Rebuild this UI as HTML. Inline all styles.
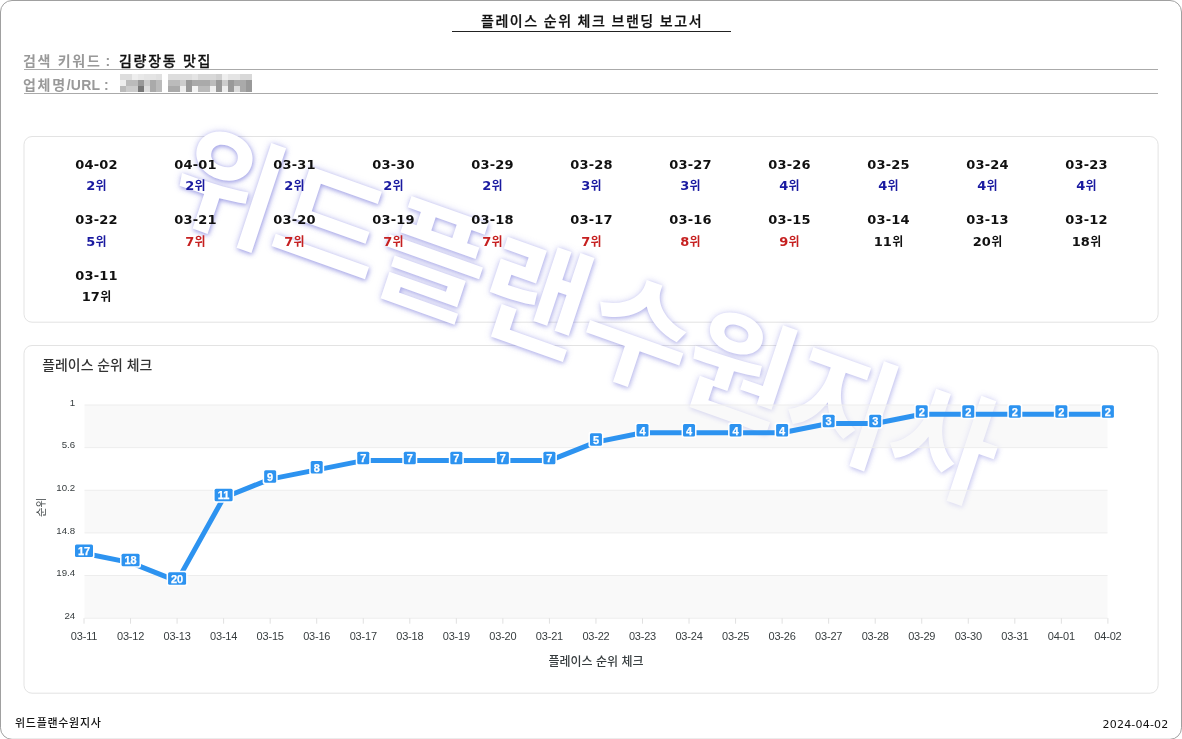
<!DOCTYPE html>
<html lang="ko">
<head>
<meta charset="utf-8">
<title>플레이스 순위 체크 브랜딩 보고서</title>
<style>
html,body{margin:0;padding:0;background:#fff;}
body{width:1182px;height:739px;overflow:hidden;position:relative;font-family:"Liberation Sans", "Noto Sans CJK KR", sans-serif;color:#111;}
.page{position:absolute;left:0;top:0;width:1182px;height:739px;overflow:hidden;}
.frame{position:absolute;left:0;top:0;}
.inner{position:absolute;left:0;top:0;width:1182px;height:739px;}
.wm{position:absolute;left:586.3px;top:316.5px;width:0;height:0;z-index:0;}
.wm span{position:absolute;left:-500px;top:-80px;width:1000px;height:160px;line-height:160px;text-align:center;
  font-family:"Liberation Sans", "Noto Sans CJK KR", sans-serif;font-size:118px;font-weight:700;color:#fff;white-space:nowrap;
  transform:rotate(19.6deg) skewX(1.3deg) scale(1,1.01);transform-origin:50% 50%;}
.wm i{font-style:normal;}
.title{position:absolute;left:452px;top:8px;width:279px;height:23px;border-bottom:1px solid #222;text-align:center;
  font-size:14px;line-height:27px;font-weight:500;letter-spacing:1.6px;text-indent:1.1px;word-spacing:-0.6px;color:#111;white-space:nowrap;-webkit-text-stroke:0.25px #111;}
.row{position:absolute;left:24px;width:1134px;height:23px;border-bottom:1px solid #aaa;font-size:14px;line-height:22px;white-space:nowrap;}
.row .lb{position:absolute;left:-1px;top:4px;color:#999;letter-spacing:1.7px;font-weight:700;}
.row .co{letter-spacing:0.2px;}
.row .vl{position:absolute;left:95px;top:4px;color:#111;font-weight:500;letter-spacing:1.7px;-webkit-text-stroke:0.3px #111;}
.row .mos{position:absolute;left:95px;top:4px;}
.grid{position:absolute;left:47px;top:151px;width:1090px;}
.cell{float:left;width:99px;height:55.5px;text-align:center;font-family:"DejaVu Sans", "Liberation Sans", "Noto Sans CJK KR", sans-serif;font-weight:bold;font-size:13px;letter-spacing:0.2px;}
.cell:nth-child(-n+11){height:55px;}
.cell:nth-child(n+12){height:56px;}
.cell .w{font-weight:700;font-size:12px;}
.cell:nth-child(n+12):nth-child(-n+22) .rk{position:relative;top:1px;}
.cell .d{height:21px;line-height:28px;color:#111;}
.cell .rk{height:21px;line-height:28px;}
.b{color:#1a1aa0;}
.r{color:#c62020;}
.k{color:#111;}
.chart{position:absolute;left:0;top:0;}
.chart text{font-family:"Liberation Sans","Noto Sans CJK KR",sans-serif;}
.ax{font-size:11px;fill:#373d3f;letter-spacing:-0.2px;}
.ay{font-size:9.7px;fill:#373d3f;}
.axt{font-size:12px;fill:#373d3f;font-weight:500;}
.axt2{font-size:10.5px;fill:#373d3f;}
.ct{font-size:13.9px;fill:#333;font-weight:500;}
.dl{font-size:11px;font-weight:bold;fill:#fff;stroke:#fff;stroke-width:0.25px;}
.ft{position:absolute;top:715px;font-size:11px;line-height:16px;color:#111;white-space:nowrap;}
.ftl{left:15px;letter-spacing:0.7px;font-weight:500;}
.ftr{right:13.5px;top:717px;font-family:"DejaVu Sans", "Liberation Sans", "Noto Sans CJK KR", sans-serif;letter-spacing:0.2px;}
</style>
</head>
<body>
<div class="page"><svg class="frame" width="1182" height="739" viewBox="0 0 1182 739"><rect x="0.5" y="0.5" width="1181" height="738.8" rx="11.5" ry="11.5" fill="none" stroke="#a0a0a0" stroke-width="1"/><rect x="24" y="136.5" width="1134.1" height="185.7" rx="8" ry="8" fill="none" stroke="#e3e3e3" stroke-width="1"/><rect x="24" y="345.5" width="1134.1" height="347.7" rx="8" ry="8" fill="none" stroke="#e3e3e3" stroke-width="1"/></svg><div class="inner">
<div class="wm"><span><i style="text-shadow:1.4px 1.4px 4.5px rgba(105,105,212,0.52),0 0 7px rgba(118,118,225,0.38)">위</i><i style="text-shadow:1.4px 1.4px 4.5px rgba(105,105,212,0.48),0 0 7px rgba(118,118,225,0.37)">드</i><i style="text-shadow:1.4px 1.4px 4.5px rgba(105,105,212,0.44),0 0 7px rgba(118,118,225,0.36)">플</i><i style="text-shadow:1.4px 1.4px 4.5px rgba(105,105,212,0.40),0 0 7px rgba(118,118,225,0.35)">랜</i><i style="text-shadow:1.4px 1.4px 4.5px rgba(105,105,212,0.36),0 0 7px rgba(118,118,225,0.33)">수</i><i style="text-shadow:1.4px 1.4px 4.5px rgba(105,105,212,0.32),0 0 7px rgba(118,118,225,0.32)">원</i><i style="text-shadow:1.4px 1.4px 4.5px rgba(105,105,212,0.28),0 0 7px rgba(118,118,225,0.31)">지</i><i style="text-shadow:1.4px 1.4px 4.5px rgba(105,105,212,0.24),0 0 7px rgba(118,118,225,0.30)">사</i></span></div>
<div class="title">플레이스 순위 체크 브랜딩 보고서</div>
<div class="row" style="top:46px"><span class="lb">검색 키워드<span class="co"> :</span></span><span class="vl">김량장동 맛집</span></div>
<div class="row" style="top:70px"><span class="lb">업체명<span class="co">/URL :</span></span><svg class="mos" width="140" height="20" viewBox="0 0 140 20"><rect x="1" y="0" width="6" height="6" fill="#ddd"/><rect x="7" y="0" width="6" height="6" fill="#ddd"/><rect x="13" y="0" width="6" height="6" fill="#eee"/><rect x="19" y="0" width="6" height="6" fill="#e8e8e8"/><rect x="25" y="0" width="6" height="6" fill="#e4e4e4"/><rect x="31" y="0" width="6" height="6" fill="#e4e4e4"/><rect x="37" y="0" width="6" height="6" fill="#e0e0e0"/><rect x="1" y="6" width="6" height="6" fill="#eee"/><rect x="7" y="6" width="6" height="6" fill="#bbb"/><rect x="13" y="6" width="6" height="6" fill="#bbb"/><rect x="19" y="6" width="6" height="6" fill="#999"/><rect x="25" y="6" width="6" height="6" fill="#ccc"/><rect x="31" y="6" width="6" height="6" fill="#aaa"/><rect x="37" y="6" width="6" height="6" fill="#bbb"/><rect x="1" y="12" width="6" height="6" fill="#bbb"/><rect x="7" y="12" width="6" height="6" fill="#ccc"/><rect x="13" y="12" width="6" height="6" fill="#ccc"/><rect x="19" y="12" width="6" height="6" fill="#777"/><rect x="25" y="12" width="6" height="6" fill="#ddd"/><rect x="31" y="12" width="6" height="6" fill="#aaa"/><rect x="37" y="12" width="6" height="6" fill="#bbb"/><rect x="49" y="0" width="6" height="6" fill="#ddd"/><rect x="55" y="0" width="6" height="6" fill="#ddd"/><rect x="61" y="0" width="6" height="6" fill="#ddd"/><rect x="67" y="0" width="6" height="6" fill="#ddd"/><rect x="73" y="0" width="6" height="6" fill="#e4e4e4"/><rect x="79" y="0" width="6" height="6" fill="#d8d8d8"/><rect x="85" y="0" width="6" height="6" fill="#d8d8d8"/><rect x="91" y="0" width="6" height="6" fill="#d8d8d8"/><rect x="97" y="0" width="6" height="6" fill="#d0d0d0"/><rect x="103" y="0" width="6" height="6" fill="#eee"/><rect x="109" y="0" width="6" height="6" fill="#e4e4e4"/><rect x="115" y="0" width="6" height="6" fill="#e4e4e4"/><rect x="121" y="0" width="6" height="6" fill="#d8d8d8"/><rect x="127" y="0" width="6" height="6" fill="#d8d8d8"/><rect x="49" y="6" width="6" height="6" fill="#bbb"/><rect x="55" y="6" width="6" height="6" fill="#bbb"/><rect x="61" y="6" width="6" height="6" fill="#ccc"/><rect x="67" y="6" width="6" height="6" fill="#999"/><rect x="73" y="6" width="6" height="6" fill="#aaa"/><rect x="79" y="6" width="6" height="6" fill="#aaa"/><rect x="85" y="6" width="6" height="6" fill="#aaa"/><rect x="91" y="6" width="6" height="6" fill="#bbb"/><rect x="97" y="6" width="6" height="6" fill="#999"/><rect x="103" y="6" width="6" height="6" fill="#ccc"/><rect x="109" y="6" width="6" height="6" fill="#999"/><rect x="115" y="6" width="6" height="6" fill="#aaa"/><rect x="121" y="6" width="6" height="6" fill="#aaa"/><rect x="127" y="6" width="6" height="6" fill="#999"/><rect x="49" y="12" width="6" height="6" fill="#aaa"/><rect x="55" y="12" width="6" height="6" fill="#aaa"/><rect x="61" y="12" width="6" height="6" fill="#eee"/><rect x="67" y="12" width="6" height="6" fill="#999"/><rect x="73" y="12" width="6" height="6" fill="#f4f4f4"/><rect x="79" y="12" width="6" height="6" fill="#bbb"/><rect x="85" y="12" width="6" height="6" fill="#bbb"/><rect x="91" y="12" width="6" height="6" fill="#f0f0f0"/><rect x="97" y="12" width="6" height="6" fill="#999"/><rect x="103" y="12" width="6" height="6" fill="#eee"/><rect x="109" y="12" width="6" height="6" fill="#999"/><rect x="115" y="12" width="6" height="6" fill="#ddd"/><rect x="121" y="12" width="6" height="6" fill="#aaa"/><rect x="127" y="12" width="6" height="6" fill="#999"/></svg></div>
<div class="grid">
<div class="cell"><div class="d">04-02</div><div class="rk b">2<span class="w">위</span></div></div>
<div class="cell"><div class="d">04-01</div><div class="rk b">2<span class="w">위</span></div></div>
<div class="cell"><div class="d">03-31</div><div class="rk b">2<span class="w">위</span></div></div>
<div class="cell"><div class="d">03-30</div><div class="rk b">2<span class="w">위</span></div></div>
<div class="cell"><div class="d">03-29</div><div class="rk b">2<span class="w">위</span></div></div>
<div class="cell"><div class="d">03-28</div><div class="rk b">3<span class="w">위</span></div></div>
<div class="cell"><div class="d">03-27</div><div class="rk b">3<span class="w">위</span></div></div>
<div class="cell"><div class="d">03-26</div><div class="rk b">4<span class="w">위</span></div></div>
<div class="cell"><div class="d">03-25</div><div class="rk b">4<span class="w">위</span></div></div>
<div class="cell"><div class="d">03-24</div><div class="rk b">4<span class="w">위</span></div></div>
<div class="cell"><div class="d">03-23</div><div class="rk b">4<span class="w">위</span></div></div>
<div class="cell"><div class="d">03-22</div><div class="rk b">5<span class="w">위</span></div></div>
<div class="cell"><div class="d">03-21</div><div class="rk r">7<span class="w">위</span></div></div>
<div class="cell"><div class="d">03-20</div><div class="rk r">7<span class="w">위</span></div></div>
<div class="cell"><div class="d">03-19</div><div class="rk r">7<span class="w">위</span></div></div>
<div class="cell"><div class="d">03-18</div><div class="rk r">7<span class="w">위</span></div></div>
<div class="cell"><div class="d">03-17</div><div class="rk r">7<span class="w">위</span></div></div>
<div class="cell"><div class="d">03-16</div><div class="rk r">8<span class="w">위</span></div></div>
<div class="cell"><div class="d">03-15</div><div class="rk r">9<span class="w">위</span></div></div>
<div class="cell"><div class="d">03-14</div><div class="rk k">11<span class="w">위</span></div></div>
<div class="cell"><div class="d">03-13</div><div class="rk k">20<span class="w">위</span></div></div>
<div class="cell"><div class="d">03-12</div><div class="rk k">18<span class="w">위</span></div></div>
<div class="cell"><div class="d">03-11</div><div class="rk k">17<span class="w">위</span></div></div>
</div>
<svg class="chart" width="1182" height="739" viewBox="0 0 1182 739">
<rect x="84.5" y="405.00" width="1023.0" height="42.64" fill="#f3f3f3" fill-opacity="0.5"/>
<rect x="84.5" y="490.28" width="1023.0" height="42.64" fill="#f3f3f3" fill-opacity="0.5"/>
<rect x="84.5" y="575.56" width="1023.0" height="42.64" fill="#f3f3f3" fill-opacity="0.5"/>
<line x1="84.5" y1="405.00" x2="1107.5" y2="405.00" stroke="#ededed" stroke-width="1"/>
<line x1="84.5" y1="447.64" x2="1107.5" y2="447.64" stroke="#ededed" stroke-width="1"/>
<line x1="84.5" y1="490.28" x2="1107.5" y2="490.28" stroke="#ededed" stroke-width="1"/>
<line x1="84.5" y1="532.92" x2="1107.5" y2="532.92" stroke="#ededed" stroke-width="1"/>
<line x1="84.5" y1="575.56" x2="1107.5" y2="575.56" stroke="#ededed" stroke-width="1"/>
<line x1="84.5" y1="618.20" x2="1107.5" y2="618.20" stroke="#ededed" stroke-width="1"/>
<line x1="84.00" y1="618.2" x2="84.00" y2="623.7" stroke="#e0e0e0" stroke-width="1"/>
<line x1="130.54" y1="618.2" x2="130.54" y2="623.7" stroke="#e0e0e0" stroke-width="1"/>
<line x1="177.08" y1="618.2" x2="177.08" y2="623.7" stroke="#e0e0e0" stroke-width="1"/>
<line x1="223.62" y1="618.2" x2="223.62" y2="623.7" stroke="#e0e0e0" stroke-width="1"/>
<line x1="270.16" y1="618.2" x2="270.16" y2="623.7" stroke="#e0e0e0" stroke-width="1"/>
<line x1="316.70" y1="618.2" x2="316.70" y2="623.7" stroke="#e0e0e0" stroke-width="1"/>
<line x1="363.25" y1="618.2" x2="363.25" y2="623.7" stroke="#e0e0e0" stroke-width="1"/>
<line x1="409.79" y1="618.2" x2="409.79" y2="623.7" stroke="#e0e0e0" stroke-width="1"/>
<line x1="456.33" y1="618.2" x2="456.33" y2="623.7" stroke="#e0e0e0" stroke-width="1"/>
<line x1="502.87" y1="618.2" x2="502.87" y2="623.7" stroke="#e0e0e0" stroke-width="1"/>
<line x1="549.41" y1="618.2" x2="549.41" y2="623.7" stroke="#e0e0e0" stroke-width="1"/>
<line x1="595.95" y1="618.2" x2="595.95" y2="623.7" stroke="#e0e0e0" stroke-width="1"/>
<line x1="642.49" y1="618.2" x2="642.49" y2="623.7" stroke="#e0e0e0" stroke-width="1"/>
<line x1="689.03" y1="618.2" x2="689.03" y2="623.7" stroke="#e0e0e0" stroke-width="1"/>
<line x1="735.57" y1="618.2" x2="735.57" y2="623.7" stroke="#e0e0e0" stroke-width="1"/>
<line x1="782.11" y1="618.2" x2="782.11" y2="623.7" stroke="#e0e0e0" stroke-width="1"/>
<line x1="828.65" y1="618.2" x2="828.65" y2="623.7" stroke="#e0e0e0" stroke-width="1"/>
<line x1="875.20" y1="618.2" x2="875.20" y2="623.7" stroke="#e0e0e0" stroke-width="1"/>
<line x1="921.74" y1="618.2" x2="921.74" y2="623.7" stroke="#e0e0e0" stroke-width="1"/>
<line x1="968.28" y1="618.2" x2="968.28" y2="623.7" stroke="#e0e0e0" stroke-width="1"/>
<line x1="1014.82" y1="618.2" x2="1014.82" y2="623.7" stroke="#e0e0e0" stroke-width="1"/>
<line x1="1061.36" y1="618.2" x2="1061.36" y2="623.7" stroke="#e0e0e0" stroke-width="1"/>
<line x1="1107.90" y1="618.2" x2="1107.90" y2="623.7" stroke="#e0e0e0" stroke-width="1"/>
<path d="M84.00 553.31 L130.54 562.58 L177.08 581.12 L223.62 497.70 L270.16 479.16 L316.70 469.89 L363.25 460.62 L409.79 460.62 L456.33 460.62 L502.87 460.62 L549.41 460.62 L595.95 442.08 L642.49 432.81 L689.03 432.81 L735.57 432.81 L782.11 432.81 L828.65 423.54 L875.20 423.54 L921.74 414.27 L968.28 414.27 L1014.82 414.27 L1061.36 414.27 L1107.90 414.27" fill="none" stroke="#2d93f0" stroke-width="5" stroke-linecap="butt" stroke-linejoin="round"/>
<rect x="73.50" y="542.91" width="21" height="15.5" rx="2" ry="2" fill="#fff"/>
<rect x="75.00" y="544.41" width="18" height="12.5" rx="1.5" ry="1.5" fill="#2d93f0"/>
<text x="84.00" y="555.01" text-anchor="middle" class="dl">17</text>
<rect x="120.04" y="552.18" width="21" height="15.5" rx="2" ry="2" fill="#fff"/>
<rect x="121.54" y="553.68" width="18" height="12.5" rx="1.5" ry="1.5" fill="#2d93f0"/>
<text x="130.54" y="564.28" text-anchor="middle" class="dl">18</text>
<rect x="166.58" y="570.72" width="21" height="15.5" rx="2" ry="2" fill="#fff"/>
<rect x="168.08" y="572.22" width="18" height="12.5" rx="1.5" ry="1.5" fill="#2d93f0"/>
<text x="177.08" y="582.82" text-anchor="middle" class="dl">20</text>
<rect x="213.12" y="487.30" width="21" height="15.5" rx="2" ry="2" fill="#fff"/>
<rect x="214.62" y="488.80" width="18" height="12.5" rx="1.5" ry="1.5" fill="#2d93f0"/>
<text x="223.62" y="499.40" text-anchor="middle" class="dl">11</text>
<rect x="262.66" y="468.76" width="15" height="15.5" rx="2" ry="2" fill="#fff"/>
<rect x="264.16" y="470.26" width="12" height="12.5" rx="1.5" ry="1.5" fill="#2d93f0"/>
<text x="270.16" y="480.86" text-anchor="middle" class="dl">9</text>
<rect x="309.20" y="459.49" width="15" height="15.5" rx="2" ry="2" fill="#fff"/>
<rect x="310.70" y="460.99" width="12" height="12.5" rx="1.5" ry="1.5" fill="#2d93f0"/>
<text x="316.70" y="471.59" text-anchor="middle" class="dl">8</text>
<rect x="355.75" y="450.22" width="15" height="15.5" rx="2" ry="2" fill="#fff"/>
<rect x="357.25" y="451.72" width="12" height="12.5" rx="1.5" ry="1.5" fill="#2d93f0"/>
<text x="363.25" y="462.32" text-anchor="middle" class="dl">7</text>
<rect x="402.29" y="450.22" width="15" height="15.5" rx="2" ry="2" fill="#fff"/>
<rect x="403.79" y="451.72" width="12" height="12.5" rx="1.5" ry="1.5" fill="#2d93f0"/>
<text x="409.79" y="462.32" text-anchor="middle" class="dl">7</text>
<rect x="448.83" y="450.22" width="15" height="15.5" rx="2" ry="2" fill="#fff"/>
<rect x="450.33" y="451.72" width="12" height="12.5" rx="1.5" ry="1.5" fill="#2d93f0"/>
<text x="456.33" y="462.32" text-anchor="middle" class="dl">7</text>
<rect x="495.37" y="450.22" width="15" height="15.5" rx="2" ry="2" fill="#fff"/>
<rect x="496.87" y="451.72" width="12" height="12.5" rx="1.5" ry="1.5" fill="#2d93f0"/>
<text x="502.87" y="462.32" text-anchor="middle" class="dl">7</text>
<rect x="541.91" y="450.22" width="15" height="15.5" rx="2" ry="2" fill="#fff"/>
<rect x="543.41" y="451.72" width="12" height="12.5" rx="1.5" ry="1.5" fill="#2d93f0"/>
<text x="549.41" y="462.32" text-anchor="middle" class="dl">7</text>
<rect x="588.45" y="431.68" width="15" height="15.5" rx="2" ry="2" fill="#fff"/>
<rect x="589.95" y="433.18" width="12" height="12.5" rx="1.5" ry="1.5" fill="#2d93f0"/>
<text x="595.95" y="443.78" text-anchor="middle" class="dl">5</text>
<rect x="634.99" y="422.41" width="15" height="15.5" rx="2" ry="2" fill="#fff"/>
<rect x="636.49" y="423.91" width="12" height="12.5" rx="1.5" ry="1.5" fill="#2d93f0"/>
<text x="642.49" y="434.51" text-anchor="middle" class="dl">4</text>
<rect x="681.53" y="422.41" width="15" height="15.5" rx="2" ry="2" fill="#fff"/>
<rect x="683.03" y="423.91" width="12" height="12.5" rx="1.5" ry="1.5" fill="#2d93f0"/>
<text x="689.03" y="434.51" text-anchor="middle" class="dl">4</text>
<rect x="728.07" y="422.41" width="15" height="15.5" rx="2" ry="2" fill="#fff"/>
<rect x="729.57" y="423.91" width="12" height="12.5" rx="1.5" ry="1.5" fill="#2d93f0"/>
<text x="735.57" y="434.51" text-anchor="middle" class="dl">4</text>
<rect x="774.61" y="422.41" width="15" height="15.5" rx="2" ry="2" fill="#fff"/>
<rect x="776.11" y="423.91" width="12" height="12.5" rx="1.5" ry="1.5" fill="#2d93f0"/>
<text x="782.11" y="434.51" text-anchor="middle" class="dl">4</text>
<rect x="821.15" y="413.14" width="15" height="15.5" rx="2" ry="2" fill="#fff"/>
<rect x="822.65" y="414.64" width="12" height="12.5" rx="1.5" ry="1.5" fill="#2d93f0"/>
<text x="828.65" y="425.24" text-anchor="middle" class="dl">3</text>
<rect x="867.70" y="413.14" width="15" height="15.5" rx="2" ry="2" fill="#fff"/>
<rect x="869.20" y="414.64" width="12" height="12.5" rx="1.5" ry="1.5" fill="#2d93f0"/>
<text x="875.20" y="425.24" text-anchor="middle" class="dl">3</text>
<rect x="914.24" y="403.87" width="15" height="15.5" rx="2" ry="2" fill="#fff"/>
<rect x="915.74" y="405.37" width="12" height="12.5" rx="1.5" ry="1.5" fill="#2d93f0"/>
<text x="921.74" y="415.97" text-anchor="middle" class="dl">2</text>
<rect x="960.78" y="403.87" width="15" height="15.5" rx="2" ry="2" fill="#fff"/>
<rect x="962.28" y="405.37" width="12" height="12.5" rx="1.5" ry="1.5" fill="#2d93f0"/>
<text x="968.28" y="415.97" text-anchor="middle" class="dl">2</text>
<rect x="1007.32" y="403.87" width="15" height="15.5" rx="2" ry="2" fill="#fff"/>
<rect x="1008.82" y="405.37" width="12" height="12.5" rx="1.5" ry="1.5" fill="#2d93f0"/>
<text x="1014.82" y="415.97" text-anchor="middle" class="dl">2</text>
<rect x="1053.86" y="403.87" width="15" height="15.5" rx="2" ry="2" fill="#fff"/>
<rect x="1055.36" y="405.37" width="12" height="12.5" rx="1.5" ry="1.5" fill="#2d93f0"/>
<text x="1061.36" y="415.97" text-anchor="middle" class="dl">2</text>
<rect x="1100.40" y="403.87" width="15" height="15.5" rx="2" ry="2" fill="#fff"/>
<rect x="1101.90" y="405.37" width="12" height="12.5" rx="1.5" ry="1.5" fill="#2d93f0"/>
<text x="1107.90" y="415.97" text-anchor="middle" class="dl">2</text>
<text x="75.2" y="405.60" text-anchor="end" class="ay">1</text>
<text x="75.2" y="448.24" text-anchor="end" class="ay">5.6</text>
<text x="75.2" y="490.88" text-anchor="end" class="ay">10.2</text>
<text x="75.2" y="533.52" text-anchor="end" class="ay">14.8</text>
<text x="75.2" y="576.16" text-anchor="end" class="ay">19.4</text>
<text x="75.2" y="618.80" text-anchor="end" class="ay">24</text>
<text x="84.00" y="640" text-anchor="middle" class="ax">03-11</text>
<text x="130.54" y="640" text-anchor="middle" class="ax">03-12</text>
<text x="177.08" y="640" text-anchor="middle" class="ax">03-13</text>
<text x="223.62" y="640" text-anchor="middle" class="ax">03-14</text>
<text x="270.16" y="640" text-anchor="middle" class="ax">03-15</text>
<text x="316.70" y="640" text-anchor="middle" class="ax">03-16</text>
<text x="363.25" y="640" text-anchor="middle" class="ax">03-17</text>
<text x="409.79" y="640" text-anchor="middle" class="ax">03-18</text>
<text x="456.33" y="640" text-anchor="middle" class="ax">03-19</text>
<text x="502.87" y="640" text-anchor="middle" class="ax">03-20</text>
<text x="549.41" y="640" text-anchor="middle" class="ax">03-21</text>
<text x="595.95" y="640" text-anchor="middle" class="ax">03-22</text>
<text x="642.49" y="640" text-anchor="middle" class="ax">03-23</text>
<text x="689.03" y="640" text-anchor="middle" class="ax">03-24</text>
<text x="735.57" y="640" text-anchor="middle" class="ax">03-25</text>
<text x="782.11" y="640" text-anchor="middle" class="ax">03-26</text>
<text x="828.65" y="640" text-anchor="middle" class="ax">03-27</text>
<text x="875.20" y="640" text-anchor="middle" class="ax">03-28</text>
<text x="921.74" y="640" text-anchor="middle" class="ax">03-29</text>
<text x="968.28" y="640" text-anchor="middle" class="ax">03-30</text>
<text x="1014.82" y="640" text-anchor="middle" class="ax">03-31</text>
<text x="1061.36" y="640" text-anchor="middle" class="ax">04-01</text>
<text x="1107.90" y="640" text-anchor="middle" class="ax">04-02</text>
<text x="596" y="665.8" text-anchor="middle" class="axt">플레이스 순위 체크</text>
<text x="0" y="0" text-anchor="middle" class="axt2" transform="translate(45 507.4) rotate(-90)">순위</text>
<text x="42.3" y="369.6" class="ct">플레이스 순위 체크</text>
</svg>
<div class="ft ftl">위드플랜수원지사</div>
<div class="ft ftr">2024-04-02</div>
</div></div>
</body>
</html>
